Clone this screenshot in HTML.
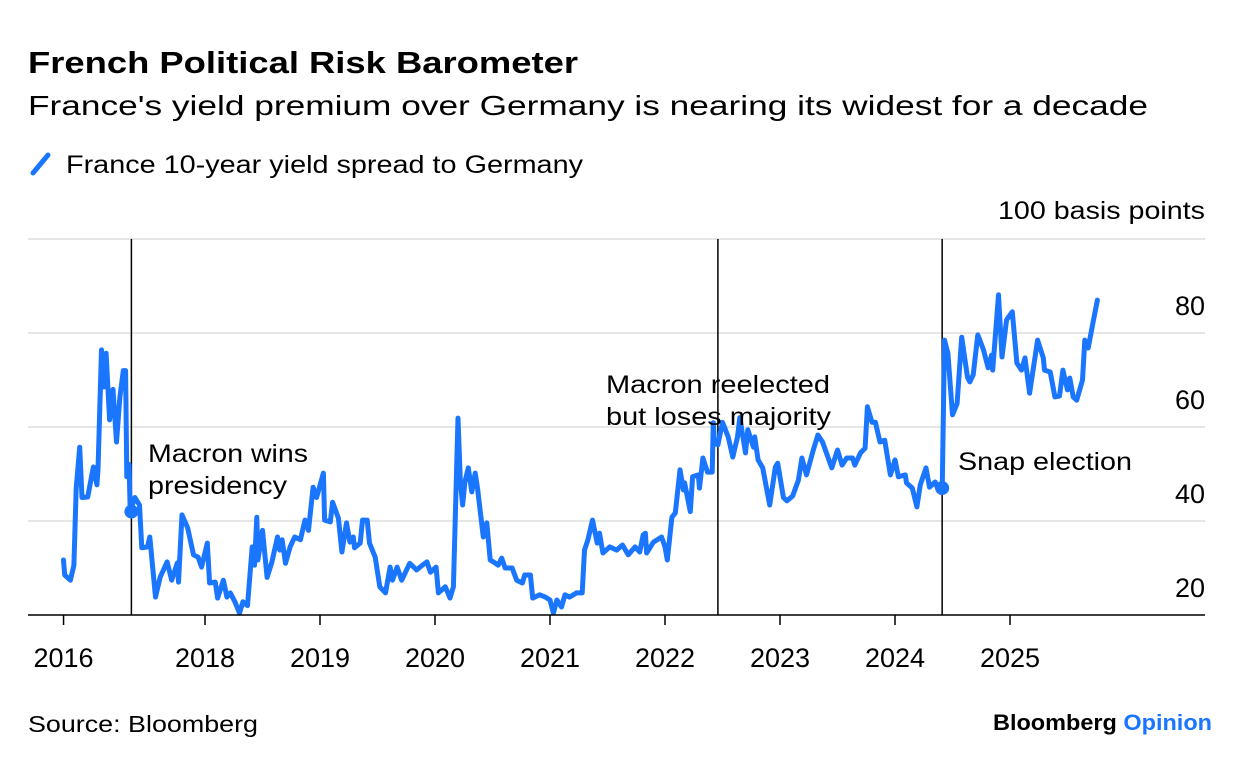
<!DOCTYPE html>
<html><head><meta charset="utf-8"><style>
html,body{margin:0;padding:0;background:#fff;}
svg{display:block;font-family:"Liberation Sans",sans-serif;}
</style></head><body>
<svg id="chart" width="1240" height="766" viewBox="0 0 1240 766">
<text x="28" y="73" font-size="31" font-weight="bold" fill="#000" textLength="550" lengthAdjust="spacingAndGlyphs">French Political Risk Barometer</text>
<text x="28" y="115" font-size="28" fill="#000" textLength="1120" lengthAdjust="spacingAndGlyphs">France's yield premium over Germany is nearing its widest for a decade</text>
<g>
<line x1="33" y1="173" x2="48" y2="155" stroke="#1a75ff" stroke-width="5" stroke-linecap="round"/>
<text x="66" y="173" font-size="25" fill="#000" textLength="517" lengthAdjust="spacingAndGlyphs">France 10-year yield spread to Germany</text>
</g>
<text x="998" y="219" font-size="25" fill="#000" textLength="207" lengthAdjust="spacingAndGlyphs">100 basis points</text>
<g id="grid"></g>
<g id="vlines"></g>
<g id="series"></g>
<g id="axis"></g>
<text font-size="25" fill="#000"><tspan x="148" y="462" textLength="160" lengthAdjust="spacingAndGlyphs">Macron wins</tspan><tspan x="148" y="494" textLength="139" lengthAdjust="spacingAndGlyphs">presidency</tspan></text>
<text font-size="25" fill="#000"><tspan x="606" y="393" textLength="224" lengthAdjust="spacingAndGlyphs">Macron reelected</tspan><tspan x="606" y="425" textLength="225" lengthAdjust="spacingAndGlyphs">but loses majority</tspan></text>
<text x="958" y="470" font-size="25" fill="#000" textLength="174" lengthAdjust="spacingAndGlyphs">Snap election</text>
<text x="28" y="732" font-size="23" fill="#000" textLength="230" lengthAdjust="spacingAndGlyphs">Source: Bloomberg</text>
<text x="993" y="730" font-size="22" font-weight="bold" fill="#000" textLength="219" lengthAdjust="spacingAndGlyphs">Bloomberg <tspan fill="#1a75ff">Opinion</tspan></text>
</svg>
<script>
const dates=[2016.77,2016.78,2016.83,2016.86,2016.88,2016.91,2016.93,2016.98,2017.03,2017.06,2017.07,2017.10,2017.12,2017.14,2017.17,2017.20,2017.23,2017.26,2017.29,2017.31,2017.32,2017.34,2017.35,2017.39,2017.43,2017.45,2017.50,2017.52,2017.57,2017.61,2017.67,2017.71,2017.76,2017.77,2017.80,2017.85,2017.90,2017.94,2017.97,2018.02,2018.04,2018.09,2018.11,2018.16,2018.19,2018.22,2018.26,2018.30,2018.33,2018.37,2018.41,2018.43,2018.45,2018.46,2018.50,2018.54,2018.58,2018.63,2018.65,2018.67,2018.70,2018.74,2018.78,2018.83,2018.87,2018.90,2018.94,2018.97,2019.03,2019.04,2019.09,2019.11,2019.16,2019.19,2019.23,2019.26,2019.29,2019.30,2019.35,2019.37,2019.41,2019.43,2019.48,2019.52,2019.57,2019.61,2019.63,2019.67,2019.71,2019.78,2019.84,2019.89,2019.93,2019.96,2020.01,2020.03,2020.09,2020.13,2020.16,2020.20,2020.22,2020.24,2020.26,2020.29,2020.32,2020.35,2020.37,2020.42,2020.45,2020.48,2020.52,2020.55,2020.58,2020.61,2020.67,2020.71,2020.76,2020.78,2020.83,2020.85,2020.91,2020.96,2021.00,2021.03,2021.06,2021.10,2021.13,2021.17,2021.23,2021.28,2021.30,2021.33,2021.37,2021.41,2021.43,2021.46,2021.52,2021.58,2021.63,2021.68,2021.74,2021.78,2021.81,2021.83,2021.84,2021.90,2021.97,2022.00,2022.02,2022.06,2022.09,2022.13,2022.16,2022.17,2022.22,2022.24,2022.29,2022.30,2022.33,2022.37,2022.41,2022.42,2022.43,2022.46,2022.50,2022.55,2022.59,2022.63,2022.65,2022.70,2022.72,2022.77,2022.78,2022.81,2022.85,2022.91,2022.96,2022.98,2023.03,2023.06,2023.11,2023.16,2023.19,2023.23,2023.29,2023.33,2023.37,2023.45,2023.50,2023.54,2023.58,2023.63,2023.65,2023.70,2023.74,2023.76,2023.80,2023.83,2023.87,2023.91,2023.96,2024.00,2024.03,2024.09,2024.10,2024.15,2024.19,2024.22,2024.27,2024.30,2024.35,2024.37,2024.41,2024.43,2024.46,2024.50,2024.54,2024.58,2024.63,2024.65,2024.68,2024.72,2024.77,2024.81,2024.84,2024.85,2024.90,2024.93,2024.97,2025.02,2025.06,2025.10,2025.13,2025.17,2025.24,2025.29,2025.30,2025.35,2025.39,2025.43,2025.46,2025.50,2025.52,2025.55,2025.58,2025.63,2025.65,2025.68,2025.72,2025.76];
const spreads=[31.7,28.5,27.4,30.6,47,55.7,45,45.1,51.5,47.7,50.9,76.4,68.5,75.7,61.5,68,56.8,66.4,72,72,49.4,52,42,45,43.4,34.3,34.5,36.6,23.8,28,31.3,27.4,31.1,27,41.3,38.5,32.8,32.3,30.2,35.3,26.8,27,23.6,27.4,23.8,24.7,22.8,20.4,22.8,22,34.5,30.6,40.8,31.7,38,28,31.1,36.6,33.8,36,31,34.5,36.6,36,40.2,38,47.2,45,50.2,40.2,39.8,44,40.6,33.4,39.6,35.5,36.6,34.3,35.3,40.2,40.2,35.3,32.3,26,24.7,30.2,27.4,30.2,27.4,31,29.6,30.6,31.3,29.1,30.2,24.7,26,23.6,26,61.9,48.7,43.4,48.3,51.3,46.2,50.2,47,36.6,39.6,31.7,31.1,30.6,32.1,30,30,27.4,26.8,28.5,28.5,23.6,24.3,23.8,23.2,20.4,23.2,21.7,24.3,23.8,24.7,24.7,33.8,36,40.2,35.3,37.4,33.2,34.5,33.8,34.9,32.8,34.5,33.4,37,37.4,33.2,35.5,36.6,34.5,31.7,40.8,41.7,50.9,46.6,48.1,42,49.4,49.8,47,53.4,50.4,50.4,60.9,56.6,56.2,61,57.9,53.6,57.9,62,54.5,59.4,55.7,57.9,53,51.3,43.4,51.5,52.3,45,44.3,45.3,48.7,53.4,49.8,55.1,58.3,56.8,51.3,55.1,51.9,53.4,53.4,51.9,54.5,55.5,64.3,61,61,56.8,57.2,49.8,53,49.4,49.8,48.1,47,43,47.7,51.3,47.2,48.3,47,46.6,78.5,75.7,62.6,65,79.1,70.6,69.6,71.1,79.6,76.4,72.6,75.3,72.1,88.1,74.9,82.8,84.5,73.6,72.1,74.7,67.2,78.5,74.7,72.1,71.7,66.4,66.6,72.1,67.9,70.4,66.4,65.7,70,78.5,76.8,82,87];
const yTicks=[20,40,60,80,100];
const xTickDates=[2016.77,2018,2019,2020,2021,2022,2023,2024,2025];
const xTickLabels=["2016","2018","2019","2020","2021","2022","2023","2024","2025"];
const eventDates=[2017.36,2022.46,2024.41];
const eventValues=[42,null,47];

const NS="http://www.w3.org/2000/svg";
const L=28,R=1205,Y0=615;
function xs(t){return 205+(t-2018)*115;}
function ys(v){return Y0-(v-20)*4.7;}
function mk(tag,attrs,parent){const e=document.createElementNS(NS,tag);for(const k in attrs)e.setAttribute(k,attrs[k]);parent.appendChild(e);return e;}

const grid=document.getElementById('grid');
yTicks.forEach(v=>{
  if(v>20){const g=mk('line',{x1:L,x2:R,y1:ys(v),y2:ys(v),stroke:'#e6e6e6','stroke-width':2},grid);
  
  }
  if(v<100){const t=mk('text',{x:R,y:ys(v)-18,'font-size':27,'text-anchor':'end',fill:'#000'},grid);
  t.textContent=v;
  
  }
});
const vl=document.getElementById('vlines');
eventDates.forEach((d,i)=>{
  const l=mk('line',{x1:xs(d),x2:xs(d),y1:ys(100),y2:Y0,stroke:'#000','stroke-width':1.5},vl);
  
  
});
const ser=document.getElementById('series');
const p=mk('path',{d:dates.map((d,i)=>(i?'L':'M')+xs(d).toFixed(1)+','+ys(spreads[i]).toFixed(1)).join(''),fill:'none',stroke:'#1a75ff','stroke-width':5,'stroke-linejoin':'round','stroke-linecap':'round'},ser);


eventDates.forEach((d,i)=>{
  if(eventValues[i]===null)return;
  const c=mk('circle',{cx:xs(d),cy:ys(eventValues[i]),r:7,fill:'#1a75ff'},ser);
  
  
});
const ax=document.getElementById('axis');
const a=mk('line',{x1:L,x2:R,y1:Y0,y2:Y0,stroke:'#000','stroke-width':1.5},ax);


xTickDates.forEach((d,i)=>{
  const t=mk('line',{x1:xs(d),x2:xs(d),y1:Y0,y2:Y0+10,stroke:'#000','stroke-width':1.5},ax);
  
  
  const tx=mk('text',{x:xs(d),y:667,'font-size':27,'text-anchor':'middle',fill:'#000'},ax);
  tx.textContent=xTickLabels[i];
  
  
});
</script>
</body></html>
